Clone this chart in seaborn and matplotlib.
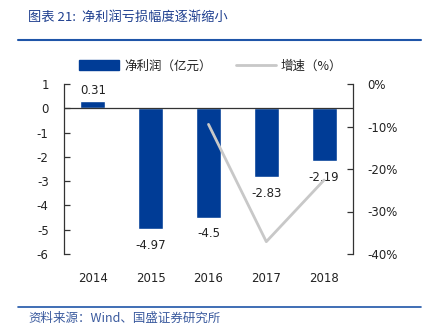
import numpy as np
import pandas as pd
import matplotlib
matplotlib.use("Agg")
import matplotlib.pyplot as plt
from matplotlib.lines import Line2D
from matplotlib.patches import Patch
from matplotlib.ticker import FuncFormatter
import seaborn as sns

years = ["2014", "2015", "2016", "2017", "2018"]
profit = [0.31, -4.97, -4.5, -2.83, -2.19]
growth = [np.nan, np.nan, -9.5, -37.1, -22.6]
profit_labels = ["0.31", "-4.97", "-4.5", "-2.83", "-2.19"]
left_ticks = [1, 0, -1, -2, -3, -4, -5, -6]
right_ticks = [0, -10, -20, -30, -40]
title = "图表 21:  净利润亏损幅度逐渐缩小"
source = "资料来源：Wind、国盛证券研究所"
legend_bar = "净利润（亿元）"
legend_line = "增速（%）"

sns.set_theme(style="white")
plt.rcParams['font.family'] = ['DejaVu Sans', 'Noto Sans CJK SC']
CJK = ['Noto Sans CJK SC', 'DejaVu Sans']

BAR = "#003C96"
LINE = "#C8C8C8"
DARKBLUE = "#1E3F8F"

df = pd.DataFrame({"year": years, "profit": profit, "growth": growth,
                   "pos": np.arange(len(years))})

fig = plt.figure(figsize=(4.33, 3.30), dpi=100)
ax = fig.add_axes([64/433, 1-254/330, (353-64)/433, (254-84)/330])

sns.barplot(data=df, x="year", y="profit", color=BAR, width=0.43,
            saturation=1, ax=ax)
ax.set_xlim(-0.5, len(years)-0.5)
ax.set_ylim(-6, 1)
ax.set_yticks(left_ticks)
ax.set_yticklabels([str(t) for t in left_ticks])
ax.axhline(0, color="#333333", lw=0.9, zorder=3)
ax.set_xlabel("")
ax.set_ylabel("")

for i, (v, lab) in enumerate(zip(profit, profit_labels)):
    if v >= 0:
        ax.annotate(lab, (i, v), xytext=(0, 3), textcoords="offset points",
                    ha="center", va="bottom", fontsize=8.5, color="#222222")
    else:
        ax.annotate(lab, (i, v), xytext=(0, -7), textcoords="offset points",
                    ha="center", va="top", fontsize=8.5, color="#222222")

ax2 = ax.twinx()
sns.lineplot(data=df, x="pos", y="growth", color=LINE, lw=2, ax=ax2)
ax2.set_ylim(-40, 0)
ax2.set_yticks(right_ticks)
ax2.yaxis.set_major_formatter(FuncFormatter(lambda v, p: f"{int(v)}%"))
ax2.set_xlabel("")
ax2.set_ylabel("")
ax2.set_xlim(-0.5, len(years)-0.5)

for a in (ax, ax2):
    for s in ("top", "bottom"):
        a.spines[s].set_visible(False)
    a.spines["left"].set_color("#333333")
    a.spines["right"].set_color("#333333")
    a.spines["left"].set_linewidth(0.9)
    a.spines["right"].set_linewidth(0.9)
ax.spines["right"].set_visible(False)
ax2.spines["left"].set_visible(False)

ax.tick_params(axis="y", direction="in", length=4, width=0.9, color="#333333",
               labelsize=8.5, labelcolor="#222222", pad=11, left=True)
ax.tick_params(axis="x", length=0, labelsize=8.5, labelcolor="#222222", pad=13)
ax2.tick_params(axis="y", direction="in", length=4, width=0.9, color="#333333",
                labelsize=8.5, labelcolor="#222222", pad=10, right=True)

handles = [Patch(facecolor=BAR, edgecolor=BAR),
           Line2D([0], [0], color=LINE, lw=2)]
leg = fig.legend(handles, [legend_bar, legend_line], loc="center",
                 bbox_to_anchor=(0.487, 1-66/330), ncol=2, frameon=False,
                 handlelength=3.2, handleheight=0.8, columnspacing=1.9,
                 handletextpad=0.4, prop={'family': CJK, 'size': 9})
for t in leg.get_texts():
    t.set_color("#222222")

fig.text(28/433, 1-17/330, title, family=CJK, fontsize=9.5, color=DARKBLUE,
         ha="left", va="center", style="italic")
fig.add_artist(Line2D([18/433, 421/433], [1-40/330, 1-40/330], color="#1F55A8",
                      lw=1.5))
fig.add_artist(Line2D([18/433, 421/433], [1-307/330, 1-307/330], color="#1F55A8",
                      lw=1.2))
fig.text(28/433, 1-318/330, source, family=CJK, fontsize=9, color="#3A5A9E",
         ha="left", va="center", style="italic")

fig.savefig("out.png", dpi=100)
